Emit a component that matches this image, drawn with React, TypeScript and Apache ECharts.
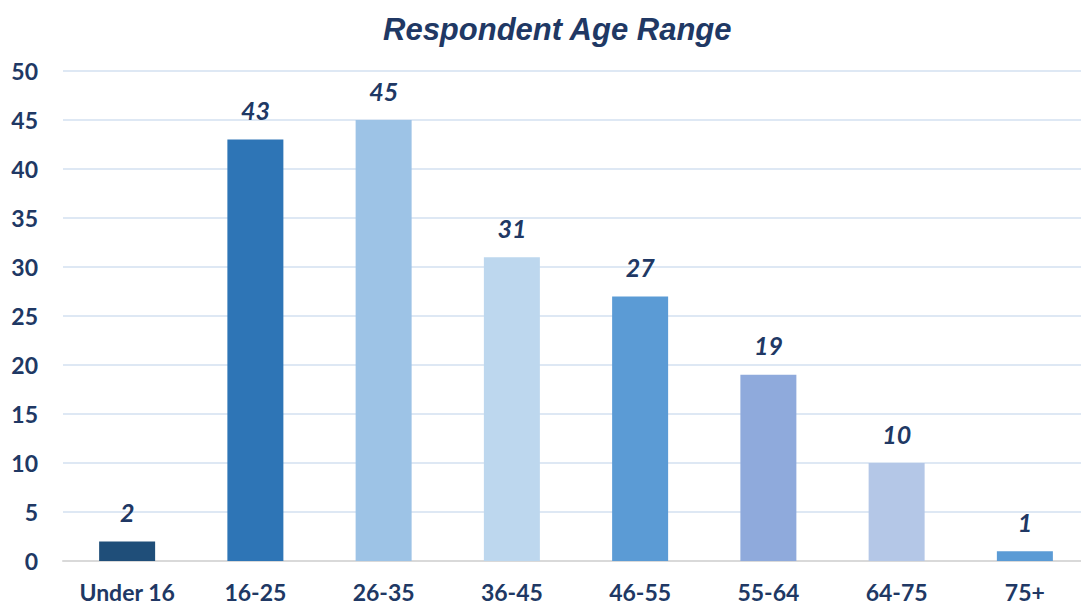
import React, { useEffect, useRef } from "react";
import * as echarts from "echarts";

const categories = ["Under 16", "16-25", "26-35", "36-45", "46-55", "55-64", "64-75", "75+"];
const counts = [2, 43, 45, 31, 27, 19, 10, 1];
const barColors = ["#1F4E79", "#2E75B6", "#9DC3E6", "#BDD7EE", "#5B9BD5", "#8FAADC", "#B4C7E7", "#5B9BD5"];

const NAVY = "#203864";
const LABEL_FONT = "Lato, 'Open Sans', sans-serif";

export default function App() {
  const ref = useRef<HTMLDivElement>(null);

  useEffect(() => {
    if (!ref.current) return;
    const chart = echarts.init(ref.current, null, { renderer: "svg" });
    chart.setOption({
      animation: false,
      backgroundColor: "#ffffff",
      title: {
        text: "Respondent Age Range",
        left: 378,
        top: 9,
        textStyle: {
          fontFamily: "'Liberation Sans', Arial, sans-serif",
          fontStyle: "italic",
          fontWeight: "bold",
          fontSize: 31,
          color: NAVY,
        },
      },
      grid: {
        left: 63,
        top: 71,
        width: 1026,
        height: 490,
        containLabel: false,
        outerBoundsMode: "none",
      },
      xAxis: {
        type: "category",
        data: categories,
        axisLine: { lineStyle: { color: "#D9D9D9", width: 2 } },
        axisTick: { show: false },
        axisLabel: {
          interval: 0,
          color: NAVY,
          fontFamily: LABEL_FONT,
          fontWeight: "bold",
          fontSize: 23,
          lineHeight: 23,
          margin: 19,
        },
      },
      yAxis: {
        type: "value",
        min: 0,
        max: 50,
        interval: 5,
        axisLine: { show: false },
        axisTick: { show: false },
        splitLine: { lineStyle: { color: "#DEE8F4", width: 2 } },
        axisLabel: {
          color: NAVY,
          fontFamily: LABEL_FONT,
          fontWeight: "bold",
          fontSize: 23,
          margin: 25,
        },
      },
      series: [
        {
          type: "bar",
          barWidth: 56,
          data: counts.map((v, i) => ({ value: v, itemStyle: { color: barColors[i] } })),
          label: {
            show: true,
            position: "top",
            distance: 17,
            color: NAVY,
            fontFamily: LABEL_FONT,
            fontStyle: "italic",
            fontWeight: "bold",
            fontSize: 25,
          },
        },
      ],
    });
    return () => chart.dispose();
  }, []);

  return (
    <div
      ref={ref}
      style={{ position: "fixed", left: 0, top: 0, width: 1081, height: 606, background: "#fff" }}
    />
  );
}
